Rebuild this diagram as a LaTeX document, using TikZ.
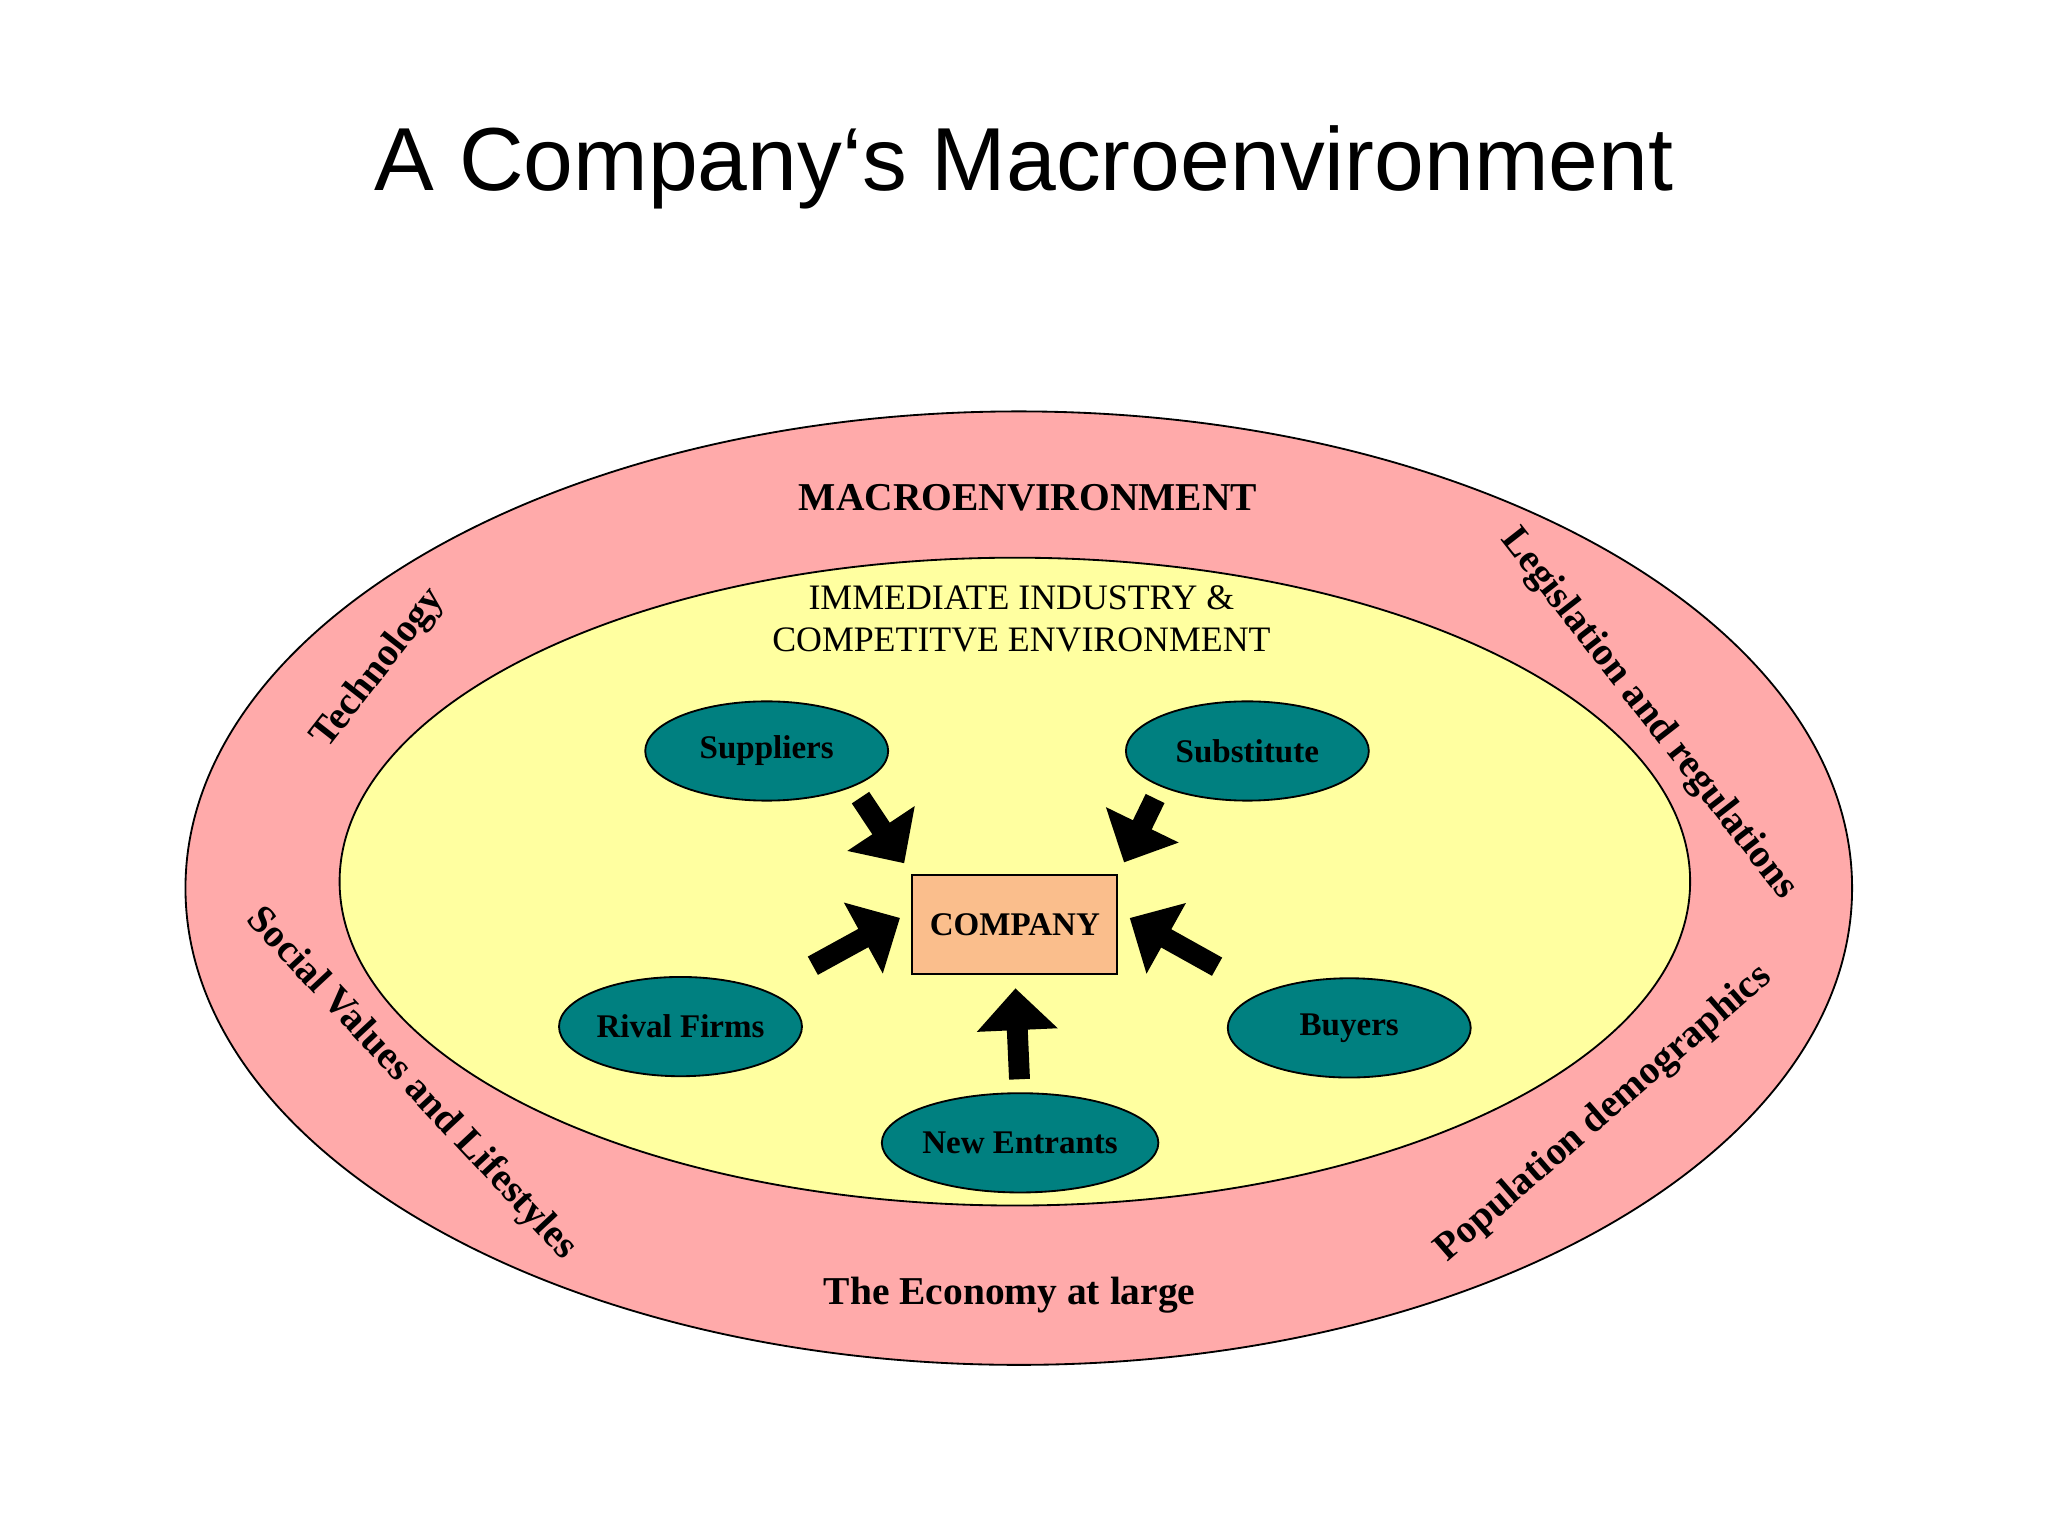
\documentclass[tikz,border=0pt]{standalone}
\usepackage{fontspec}
\setmainfont{Liberation Serif}
\newfontfamily\titlefont{Liberation Sans}
\usetikzlibrary{shapes.geometric,arrows.meta}
\definecolor{macropink}{RGB}{255,170,170}
\definecolor{industryyellow}{RGB}{255,255,160}
\definecolor{forceteal}{RGB}{0,128,128}
\definecolor{companyorange}{RGB}{250,190,140}

\begin{document}
\begin{tikzpicture}[
    force/.style={ellipse,draw,fill=forceteal,minimum width=1.86cm,minimum height=0.76cm,
                  inner sep=0pt,font=\fontsize{7.2}{9}\selectfont\bfseries},
    ring/.style={font=\fontsize{8.6}{10}\selectfont\bfseries},
    bigarrow/.style={line width=1.6mm,-{Triangle[length=3.2mm,width=6mm]},shorten <=1mm,shorten >=1mm}
]
    \useasboundingbox (0,0) rectangle (15.68,11.76);
    % title
    \node[font=\titlefont\fontsize{19.5}{23}\selectfont] (title) at (7.84,10.48) {A Company‘s Macroenvironment};

    % the two rings
    \draw[fill=macropink] (7.80,4.96) ellipse (6.38 and 3.65);
    \draw[fill=industryyellow] (7.77,5.01) ellipse (5.17 and 2.48);

    \node[ring] (macro) at (7.87,7.95) {MACROENVIRONMENT};
    \node[align=center,font=\fontsize{7.8}{9.2}\selectfont] (industry) at (7.82,7.02)
        {IMMEDIATE INDUSTRY \&\\COMPETITVE ENVIRONMENT};

    % labels round the outer ring
    \node[ring,rotate=52] (tech) at (2.90,6.64) {Technology};
    \node[ring,rotate=-52] (legis) at (12.62,6.29) {Legislation and regulations};
    \node[ring,rotate=-47] (social) at (3.15,3.46) {Social Values and Lifestyles};
    \node[ring,rotate=41] (popul) at (12.28,3.23) {Population demographics};
    \node[ring] (economy) at (7.73,1.84) {The Economy at large};

    % company and the forces
    \node[draw,fill=companyorange,minimum width=1.57cm,minimum height=0.76cm,
          font=\fontsize{7.2}{9}\selectfont\bfseries] (company) at (7.77,4.68) {COMPANY};
    \node[force] (suppliers) at (5.87,6.01) {Suppliers};
    \node[force] (substitute) at (9.55,6.01) {Substitute};
    \node[force] (rival) at (5.21,3.90) {Rival Firms};
    \node[force] (buyers) at (10.33,3.89) {Buyers};
    \node[force] (entrants) at (7.81,3.01) {New Entrants};

    \draw[bigarrow] (suppliers.south east) -- (company.north west);
    \draw[bigarrow] (substitute.south west) -- (company.north east);
    \draw[bigarrow,shorten <=4mm] (rival.north east) -- ([yshift=1mm]company.west);
    \draw[bigarrow,shorten <=4mm] (buyers.north west) -- ([yshift=1mm]company.east);
    \draw[bigarrow] (entrants.north) -- (company.south);
\end{tikzpicture}
\end{document}
